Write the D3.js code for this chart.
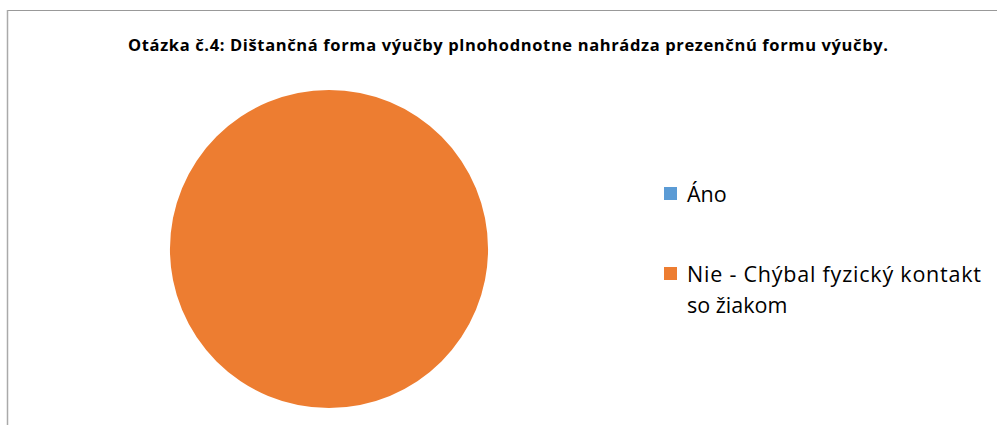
<!DOCTYPE html>
<html>
<head>
<meta charset="utf-8">
<script src="https://cdn.jsdelivr.net/npm/d3@7"></script>
<style>
  body { margin: 0; background: #fff; }
  text { font-family: "Open Sans", "Noto Sans", sans-serif; fill: #000; }
</style>
</head>
<body>
<div id="chart"></div>
<script>
var categories = ["Áno", "Nie - Chýbal fyzický kontakt so žiakom"];
var legendLines = [["Áno"], ["Nie - Chýbal fyzický kontakt", "so žiakom"]];
var values = [0, 100];
var colors = ["#5B9BD5", "#ED7D31"];
var title = "Otázka č.4: Dištančná forma výučby plnohodnotne nahrádza prezenčnú formu výučby.";

var width = 997, height = 425;

var svg = d3.select("#chart")
  .append("svg")
  .attr("width", width)
  .attr("height", height);

// frame (top and left edges visible)
svg.append("line")
  .attr("x1", 7).attr("x2", width).attr("y1", 10.5).attr("y2", 10.5)
  .attr("stroke", "#999").attr("stroke-width", 1);
svg.append("line")
  .attr("x1", 7.5).attr("x2", 7.5).attr("y1", 10).attr("y2", height)
  .attr("stroke", "#aaa").attr("stroke-width", 1.5);

// title
svg.append("text")
  .attr("x", 508)
  .attr("y", 51)
  .attr("text-anchor", "middle")
  .attr("font-weight", "bold")
  .attr("font-size", 16.5)
  .attr("textLength", 760)
  .attr("lengthAdjust", "spacing")
  .text(title);

// pie
var data = categories.map(function (c, i) {
  return {name: c, value: values[i], color: colors[i]};
});
var pie = d3.pie().sort(null).value(function (d) { return d.value; });
var arc = d3.arc().innerRadius(0).outerRadius(159);

svg.append("g")
  .attr("transform", "translate(329,249)")
  .selectAll("path")
  .data(pie(data))
  .enter()
  .append("path")
  .attr("d", arc)
  .attr("fill", function (d) { return d.data.color; });

// legend
var legendY = d3.scalePoint().domain(categories).range([193, 273]);

var legend = svg.selectAll(".legend")
  .data(data)
  .enter()
  .append("g")
  .attr("class", "legend")
  .attr("transform", function (d) { return "translate(664," + legendY(d.name) + ")"; });

legend.append("rect")
  .attr("x", 0).attr("y", -6)
  .attr("width", 13).attr("height", 13)
  .attr("fill", function (d) { return d.color; });

legend.append("text")
  .attr("x", 23)
  .attr("y", 8.5)
  .attr("font-size", 21.5)
  .selectAll("tspan")
  .data(function (d, i) { return legendLines[i]; })
  .enter()
  .append("tspan")
  .attr("x", 23)
  .attr("dy", function (d, i) { return i === 0 ? 0 : 31.5; })
  .attr("textLength", function (d) { return d.length > 20 ? 294 : null; })
  .attr("lengthAdjust", "spacing")
  .text(function (d) { return d; });
</script>
</body>
</html>
